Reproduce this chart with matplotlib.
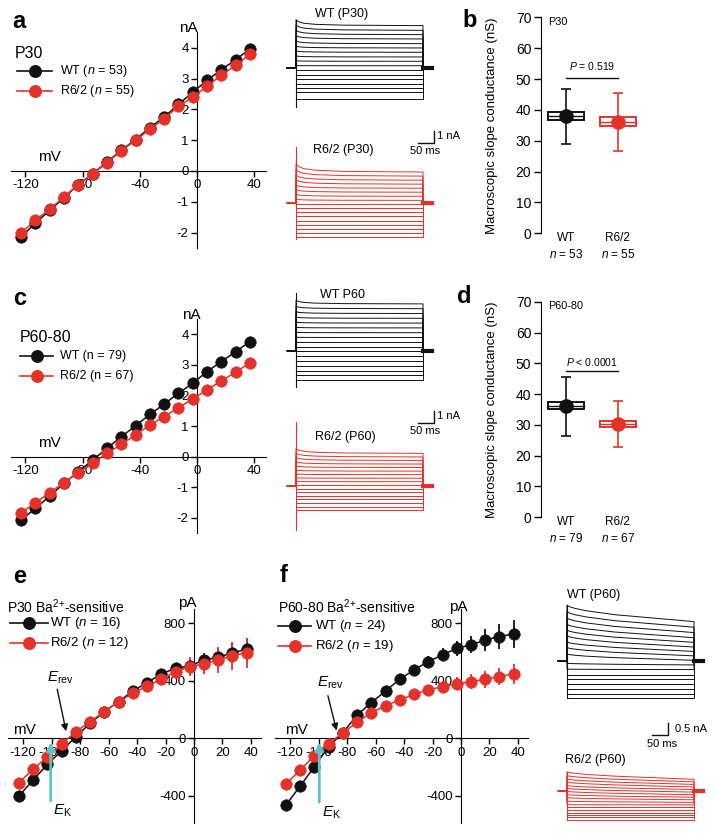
import matplotlib
matplotlib.use("Agg")
import matplotlib.pyplot as plt

plt.rcParams['font.family'] = ['Liberation Sans', 'DejaVu Sans']
plt.rcParams['mathtext.fontset'] = 'custom'
plt.rcParams['mathtext.rm'] = 'Liberation Sans'
plt.rcParams['mathtext.it'] = 'Liberation Sans:italic'
plt.rcParams['mathtext.bf'] = 'Liberation Sans:bold'

BLACK = '#111111'
RED = '#e4322b'
CYAN = '#5ec3c6'

# ---- I-V data (voltage steps, mV) ----
v_steps = [-123, -113, -103, -93, -83, -73, -63, -53, -43, -33, -23, -13, -3, 7, 17, 27, 37]

# panel a, nA
wt_p30 = [-2.14, -1.69, -1.28, -0.87, -0.44, -0.09, 0.29, 0.67, 1.02, 1.41, 1.75, 2.16, 2.56, 2.94, 3.29, 3.61, 3.97]
r62_p30 = [-2.01, -1.60, -1.24, -0.84, -0.44, -0.09, 0.27, 0.65, 1.00, 1.35, 1.70, 2.10, 2.40, 2.75, 3.11, 3.43, 3.79]
# panel c, nA
wt_p60 = [-2.07, -1.69, -1.29, -0.87, -0.49, -0.11, 0.27, 0.65, 1.01, 1.38, 1.72, 2.07, 2.40, 2.78, 3.11, 3.43, 3.76]
r62_p60 = [-1.83, -1.51, -1.17, -0.85, -0.52, -0.22, 0.11, 0.40, 0.71, 1.04, 1.31, 1.60, 1.89, 2.18, 2.48, 2.76, 3.07]
# panel e, pA
wt_ba30 = [-401, -290, -181, -88, 12, 104, 186, 255, 329, 387, 448, 487, 503, 545, 563, 596, 619]
wt_ba30_sem = [25, 20, 15, 12, 10, 10, 10, 12, 15, 20, 25, 30, 35, 45, 55, 65, 80]
r62_ba30 = [-308, -216, -128, -39, 46, 116, 186, 255, 313, 364, 410, 464, 499, 517, 545, 573, 596]
r62_ba30_sem = [25, 20, 15, 12, 10, 10, 12, 15, 20, 30, 40, 50, 65, 70, 90, 100, 105]
# panel f, pA
wt_ba60 = [-464, -332, -197, -58, 39, 162, 248, 329, 411, 476, 534, 580, 626, 650, 684, 708, 726]
wt_ba60_sem = [30, 25, 20, 15, 12, 15, 20, 25, 30, 35, 40, 45, 50, 60, 75, 85, 100]
r62_ba60 = [-318, -220, -123, -39, 39, 111, 179, 227, 267, 306, 336, 360, 378, 394, 411, 429, 448]
r62_ba60_sem = [25, 20, 15, 12, 10, 12, 15, 20, 25, 30, 35, 40, 45, 50, 60, 60, 70]

# ---- slope conductance summaries (nS): mean, box low/high, median, whisker low/high ----
groups = ['WT', 'R6/2']
g_p30_mean = [38.1, 36.2]
g_p30_box = [(36.6, 39.2), (34.9, 37.6)]
g_p30_med = [38.0, 36.0]
g_p30_whisk = [(29.0, 46.7), (26.8, 45.5)]
n_p30 = [53, 55]
g_p60_mean = [36.1, 30.3]
g_p60_box = [(35.0, 37.3), (29.4, 31.3)]
g_p60_med = [36.0, 30.2]
g_p60_whisk = [(26.5, 45.7), (22.8, 37.9)]
n_p60 = [79, 67]

# ---- example current traces: level at step start / step end (nA) ----
tr_a_wt_peak = [4.03, 3.6, 3.15, 2.7, 2.25, 1.82, 1.42, 1.0, 0.6, 0.2, -0.19, -0.56, -0.92, -1.31, -1.67, -2.03, -2.55]
tr_a_wt_end = [3.53, 3.14, 2.78, 2.42, 2.03, 1.67, 1.31, 0.92, 0.56, 0.19, -0.19, -0.56, -0.92, -1.31, -1.67, -2.03, -2.55]
tr_a_r62_peak = [3.28, 2.8, 2.35, 1.95, 1.5, 1.12, 0.72, 0.32, -0.11, -0.45, -0.79, -1.12, -1.46, -1.8, -2.13, -2.47, -2.8]
tr_a_r62_end = [2.58, 2.24, 1.9, 1.57, 1.23, 0.9, 0.56, 0.22, -0.11, -0.45, -0.79, -1.12, -1.46, -1.8, -2.13, -2.47, -2.8]
tr_c_wt_peak = [4.2, 3.7, 3.25, 2.8, 2.38, 1.95, 1.53, 1.12, 0.7, 0.3, -0.06, -0.46, -0.86, -1.25, -1.65, -2.05, -2.44]
tr_c_wt_end = [3.9, 3.5, 3.1, 2.7, 2.3, 1.9, 1.5, 1.1, 0.7, 0.3, -0.06, -0.46, -0.86, -1.25, -1.65, -2.05, -2.44]
tr_c_r62_peak = [3.14, 2.75, 2.38, 2.02, 1.68, 1.33, 1.0, 0.68, 0.37, 0.06, -0.23, -0.53, -0.82, -1.12, -1.41, -1.71, -2.0]
tr_c_r62_end = [2.72, 2.42, 2.13, 1.83, 1.54, 1.24, 0.95, 0.65, 0.36, 0.06, -0.23, -0.53, -0.82, -1.12, -1.41, -1.71, -2.0]
tr_f_wt_peak = [2.4, 2.12, 1.85, 1.58, 1.33, 1.08, 0.82, 0.58, 0.3, -0.1, -0.35, -0.58, -0.79, -1.0, -1.2, -1.4, -1.6]
tr_f_wt_end = [1.69, 1.45, 1.22, 1.0, 0.8, 0.6, 0.41, 0.22, 0.03, -0.17, -0.37, -0.58, -0.79, -1.0, -1.2, -1.4, -1.6]
tr_f_r62_peak = [0.81, 0.65, 0.5, 0.37, 0.22, 0.1, -0.03, -0.17, -0.3, -0.45, -0.6, -0.72, -0.83, -0.94, -1.05, -1.15, -1.26]
tr_f_r62_end = [0.49, 0.38, 0.27, 0.16, 0.05, -0.06, -0.17, -0.28, -0.39, -0.5, -0.61, -0.72, -0.83, -0.94, -1.05, -1.15, -1.26]
# shape of the decay during the 400 ms step (fraction of peak-end remaining)
decay_t = [0, 8, 25, 60, 150, 400]
fast_decay = [1.0, 0.65, 0.4, 0.22, 0.08, 0.0]
slow_decay = [1.0, 0.9, 0.8, 0.66, 0.42, 0.0]

W, H = 717, 833
fig = plt.figure(figsize=(W / 100, H / 100), dpi=100)


def add_ax(x0, y0, x1, y1):
    ax = fig.add_axes([x0 / W, 1 - y1 / H, (x1 - x0) / W, (y1 - y0) / H])
    ax.patch.set_visible(False)
    return ax


def iv_axes(origin, ppx, ppy, xlim, ylim, xticks, yticks, xunit, yunit, xunit_pos, yunit_pos):
    ax = add_ax(origin[0] + xlim[0] * ppx, origin[1] - ylim[1] * ppy,
                origin[0] + xlim[1] * ppx, origin[1] - ylim[0] * ppy)
    ax.set_xlim(xlim)
    ax.set_ylim(ylim)
    ax.spines['top'].set_visible(False)
    ax.spines['right'].set_visible(False)
    ax.spines['left'].set_position(('data', 0))
    ax.spines['bottom'].set_position(('data', 0))
    ax.set_xticks(xticks)
    ax.set_yticks(yticks)
    ax.set_xticklabels([str(t) for t in xticks])
    ax.set_yticklabels([str(t) for t in yticks])
    ax.tick_params(direction='out', length=4, width=1, labelsize=9.5, pad=2)
    ax.text(*xunit_pos, xunit, fontsize=11, ha='center', va='center')
    ax.text(*yunit_pos, yunit, fontsize=11, ha='center', va='center', clip_on=False)
    return ax


def iv_series(ax, y, color, sem=None):
    ax.errorbar(v_steps, y, yerr=sem, fmt='-o', color=color, ms=8.3, lw=1.1,
                elinewidth=1.3, capsize=0, mec=color, mew=0.4, zorder=3, clip_on=False)


def box_axes(y_top, y_bot, label):
    ax = add_ax(541, y_top, 649, y_bot)
    ax.set_xlim(0.52, 2.6)
    ax.set_ylim(0, 70)
    for s in ['top', 'right', 'bottom']:
        ax.spines[s].set_visible(False)
    ax.spines['left'].set_bounds(0, 70)
    ax.set_xticks([])
    ax.set_yticks(range(0, 71, 10))
    ax.tick_params(axis='y', direction='out', length=5, width=1, labelsize=10, pad=2)
    ax.set_ylabel('Macroscopic slope conductance (nS)', fontsize=9.5)
    ax.yaxis.set_label_coords((498 - 541) / 108, 0.5)
    ax.text(0.65, 68.5, label, fontsize=7.8, ha='left', va='center')
    return ax


def box_group(ax, means, boxes, meds, whisks, ns):
    for i, c in enumerate([BLACK, RED]):
        x = i + 1
        lo, hi = boxes[i]
        ax.bar([x], [hi - lo], bottom=[lo], width=0.7, facecolor='white',
               edgecolor=c, lw=1.4, zorder=2)
        ax.plot([x - 0.35, x + 0.35], [meds[i], meds[i]], color=c, lw=1, zorder=2)
        wl, wh = whisks[i]
        ax.errorbar([x], [means[i]], yerr=[[means[i] - wl], [wh - means[i]]], fmt='o',
                    color=c, ms=9.5, capsize=3.5, elinewidth=1.2, capthick=1.2, zorder=3)
        ax.text(x, -1.6, groups[i], fontsize=8.5, ha='center', va='center', clip_on=False)
        ax.text(x, -6.8, '$n$ = %d' % ns[i], fontsize=8.5, ha='center', va='center', clip_on=False)


def trace_axes(onset, baseline, ppn, ylim, xlim=(-40, 440)):
    ppms = 0.3175
    ax = add_ax(onset + xlim[0] * ppms, baseline - ylim[1] * ppn,
                onset + xlim[1] * ppms, baseline - ylim[0] * ppn)
    ax.set_xlim(xlim)
    ax.set_ylim(ylim)
    ax.axis('off')
    return ax


def draw_traces(ax, peaks, ends, profile, color, spike):
    ts = [-28, 0] + decay_t + [400, 428]
    for pk, en in zip(peaks, ends):
        ys = [0, 0] + [en + (pk - en) * f for f in profile] + [0, 0]
        ax.plot(ts, ys, color=color, lw=0.7)
    ax.plot([0, 0], spike, color=color, lw=0.8)
    ax.plot([400, 428], [0, 0], color=color, lw=3)


def scale_bar(ax, x0, x1, y0, y1, vlabel, tx, ty, hx, hy):
    ax.plot([x0, x1, x1], [y0, y0, y1], color=BLACK, lw=1, clip_on=False)
    ax.text(tx, ty, vlabel, fontsize=8, ha='left', va='center', clip_on=False)
    ax.text(hx, hy, '50 ms', fontsize=8, ha='center', va='center', clip_on=False)


# ---------- panel a ----------
ax = iv_axes((197, 171), 1.43, 30.8, (-130, 48), (-2.5, 4.5), [-120, -80, -40, 0, 40],
             [-2, -1, 0, 1, 2, 3, 4], 'mV', 'nA', (-103.5, 0.46), (-6, 4.64))
iv_series(ax, wt_p30, BLACK)
iv_series(ax, r62_p30, RED)

ax = trace_axes(296, 68, 12, (-3.5, 4.5))
draw_traces(ax, tr_a_wt_peak, tr_a_wt_end, fast_decay, BLACK, (-3.25, 4.03))
ax.text(60, 4.5, 'WT (P30)', fontsize=9, ha='left', va='center')
ax = trace_axes(296, 203, 12, (-3.5, 6.5))
draw_traces(ax, tr_a_r62_peak, tr_a_r62_end, fast_decay, RED, (-2.97, 4.67))
ax.text(53, 4.42, 'R6/2 (P30)', fontsize=9, ha='left', va='center')
scale_bar(ax, 384, 434, 5, 6, '1 nA', 443, 5.58, 405, 4.36)

# ---------- panel b ----------
ax = box_axes(17.3, 233.3, 'P30')
box_group(ax, g_p30_mean, g_p30_box, g_p30_med, g_p30_whisk, n_p30)
ax.plot([1, 2], [50.2, 50.2], color=BLACK, lw=1)
ax.text(1.5, 52.3, '$P$ = 0.519', fontsize=7.5, ha='center', va='bottom')

# ---------- panel c ----------
ax = iv_axes((197, 456.7), 1.43, 30.6, (-130, 48), (-2.5, 4.5), [-120, -80, -40, 0, 40],
             [-2, -1, 0, 1, 2, 3, 4], 'mV', 'nA', (-103, 0.44), (-3.7, 4.63))
iv_series(ax, wt_p60, BLACK)
iv_series(ax, r62_p60, RED)

ax = trace_axes(296, 350.7, 12, (-3.5, 5))
draw_traces(ax, tr_c_wt_peak, tr_c_wt_end, fast_decay, BLACK, (-3.0, 4.78))
ax.text(76, 4.64, 'WT P60', fontsize=9, ha='left', va='center')
ax = trace_axes(296, 486, 12, (-4, 6.5))
draw_traces(ax, tr_c_r62_peak, tr_c_r62_end, fast_decay, RED, (-3.67, 5.36))
ax.text(60, 4.08, 'R6/2 (P60)', fontsize=9, ha='left', va='center')
scale_bar(ax, 384, 434, 5.25, 6.25, '1 nA', 443, 5.83, 405, 4.58)

# ---------- panel d ----------
ax = box_axes(301.7, 517.3, 'P60-80')
box_group(ax, g_p60_mean, g_p60_box, g_p60_med, g_p60_whisk, n_p60)
ax.plot([1, 2], [47.4, 47.4], color=BLACK, lw=1)
ax.text(1.5, 48.6, '$P$ < 0.0001', fontsize=7.5, ha='center', va='bottom')

# ---------- panel e ----------
ba_xticks = [-120, -100, -80, -60, -40, -20, 0, 20, 40]
ax = iv_axes((194, 738.3), 1.423, 0.14375, (-131, 47), (-590, 900), ba_xticks,
             [-400, 0, 400, 800], 'mV', 'pA', (-119, 55), (-4.7, 940))
iv_series(ax, wt_ba30, BLACK, wt_ba30_sem)
iv_series(ax, r62_ba30, RED, r62_ba30_sem)
ax.annotate('', xy=(-89.5, 30), xytext=(-96.5, 360),
            arrowprops=dict(arrowstyle='-|>', color=BLACK, lw=1, mutation_scale=10), zorder=4)
ax.text(-103, 420, r'$E_{\rm rev}$', fontsize=11, ha='left', va='center')
ax.annotate('', xy=(-100.7, -8), xytext=(-100.7, -455),
            arrowprops=dict(arrowstyle='-|>', color=CYAN, lw=2, mutation_scale=12), zorder=4)
ax.text(-99, -505, r'$E_{\rm K}$', fontsize=11, ha='left', va='center')

# ---------- panel f ----------
ax = iv_axes((461, 738.3), 1.423, 0.14375, (-131, 47), (-590, 900), ba_xticks,
             [-400, 0, 400, 800], 'mV', 'pA', (-116, 58), (-1.9, 915))
iv_series(ax, wt_ba60, BLACK, wt_ba60_sem)
iv_series(ax, r62_ba60, RED, r62_ba60_sem)
ax.annotate('', xy=(-87, 35), xytext=(-94, 315),
            arrowprops=dict(arrowstyle='-|>', color=BLACK, lw=1, mutation_scale=10), zorder=4)
ax.text(-101, 385, r'$E_{\rm rev}$', fontsize=11, ha='left', va='center')
ax.annotate('', xy=(-99.6, -8), xytext=(-99.6, -464),
            arrowprops=dict(arrowstyle='-|>', color=CYAN, lw=2, mutation_scale=12), zorder=4)
ax.text(-98, -520, r'$E_{\rm K}$', fontsize=11, ha='left', va='center')

ax = trace_axes(567, 661, 23.3, (-3.8, 3.2))
draw_traces(ax, tr_f_wt_peak, tr_f_wt_end, slow_decay, BLACK, (-1.6, 2.4))
ax.text(0, 2.83, 'WT (P60)', fontsize=9, ha='left', va='center')
scale_bar(ax, 268, 318, -3.18, -2.68, '0.5 nA', 340, -2.92, 298, -3.56)
ax = trace_axes(567, 790.7, 23.3, (-1.8, 1.8))
draw_traces(ax, tr_f_r62_peak, tr_f_r62_end, slow_decay, RED, (-1.26, 0.81))
ax.text(-6, 1.32, 'R6/2 (P60)', fontsize=9, ha='left', va='center')

# ---------- legends, labels (pixel overlay) ----------
ov = fig.add_axes([0, 0, 1, 1])
ov.set_xlim(0, W)
ov.set_ylim(H, 0)
ov.axis('off')


def legend_row(x0, x1, y, color, label, tx, size):
    ov.plot([x0, x1], [y, y], color=color, lw=1.2)
    ov.plot([(x0 + x1) / 2], [y], 'o', color=color, ms=8.3)
    ov.text(tx, y, label, fontsize=size, ha='left', va='center')


ov.text(15, 53, 'P30', fontsize=11.5, ha='left', va='center')
legend_row(17, 52, 71, BLACK, 'WT ($n$ = 53)', 60, 9)
legend_row(17, 52, 91, RED, 'R6/2 ($n$ = 55)', 60, 9)

ov.text(20, 337, 'P60-80', fontsize=11.5, ha='left', va='center')
legend_row(20, 53, 356, BLACK, 'WT (n = 79)', 60, 9)
legend_row(20, 53, 376, RED, 'R6/2 (n = 67)', 60, 9)

ov.text(7, 607, r'P30 Ba$^{2{+}}$-sensitive', fontsize=10, ha='left', va='center')
legend_row(10, 48, 623, BLACK, 'WT ($n$ = 16)', 50, 9.5)
legend_row(10, 48, 643, RED, 'R6/2 ($n$ = 12)', 50, 9.5)

ov.text(278, 607, r'P60-80 Ba$^{2{+}}$-sensitive', fontsize=10, ha='left', va='center')
legend_row(278, 311, 626, BLACK, 'WT ($n$ = 24)', 315, 9.5)
legend_row(278, 311, 646, RED, 'R6/2 ($n$ = 19)', 315, 9.5)

for letter, x, y in [('a', 12, 28), ('b', 462, 27), ('c', 13, 305),
                     ('d', 457, 303), ('e', 13, 583), ('f', 280, 582)]:
    ov.text(x, y, letter, fontsize=17, fontweight='bold', ha='left', va='baseline')

fig.savefig('out.png', dpi=100)
